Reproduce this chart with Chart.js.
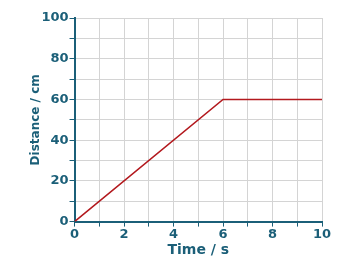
<!DOCTYPE html>
<html>
<head>
<meta charset="utf-8">
<script src="https://cdn.jsdelivr.net/npm/chart.js@4"></script>
<style>
  html, body { margin: 0; padding: 0; background: #fff; }
  #wrap { width: 362px; height: 264px; }
</style>
</head>
<body>
<div id="wrap"><canvas id="distChart" width="362" height="264"></canvas></div>
<script>
const timeValues = [0, 6, 10];
const distanceValues = [0, 60, 60];
const xTitle = 'Time / s';
const yTitle = 'Distance / cm';

const teal = '#1b5f78';
const gridGray = '#d4d4d4';

const ctx = document.getElementById('distChart').getContext('2d');
window.distChart = new Chart(ctx, {
  type: 'scatter',
  data: {
    datasets: [{
      data: timeValues.map((t, i) => ({ x: t, y: distanceValues[i] })),
      showLine: true,
      borderColor: '#b3191e',
      borderWidth: 1.6,
      pointRadius: 0,
      tension: 0
    }]
  },
  options: {
    responsive: false,
    animation: false,
    layout: { padding: { top: 18, right: 40, left: 29, bottom: 5 } },
    plugins: { legend: { display: false }, tooltip: { enabled: false } },
    scales: {
      x: {
        type: 'linear',
        min: 0, max: 10,
        ticks: {
          stepSize: 1,
          color: teal,
          font: { family: 'DejaVu Sans', weight: 'bold', size: 13 },
          padding: 0,
          maxRotation: 0,
          callback: v => (v % 2 === 0 ? v : '')
        },
        grid: { color: gridGray, tickColor: teal, tickLength: 5, lineWidth: 1 },
        border: { color: teal, width: 2 },
        title: {
          display: true, text: xTitle, color: teal,
          font: { family: 'DejaVu Sans', weight: 'bold', size: 14 },
          padding: { top: 0, bottom: 0 }
        }
      },
      y: {
        min: 0, max: 100,
        ticks: {
          stepSize: 10,
          color: teal,
          font: { family: 'DejaVu Sans', weight: 'bold', size: 13 },
          padding: 1,
          callback: v => (v % 20 === 0 ? v : '')
        },
        grid: { color: gridGray, tickColor: teal, tickLength: 5, lineWidth: 1 },
        border: { color: teal, width: 2 },
        title: {
          display: true, text: yTitle, color: teal,
          font: { family: 'DejaVu Sans', weight: 'bold', size: 12 },
          padding: { top: 0, bottom: -3 }
        }
      }
    }
  }
});
</script>
</body>
</html>
